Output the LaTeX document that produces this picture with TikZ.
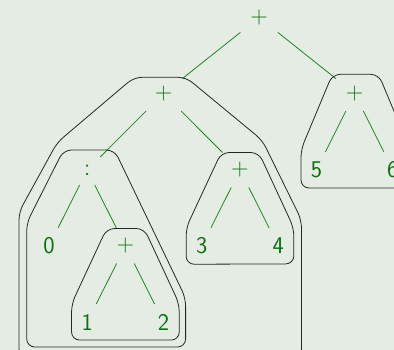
\documentclass[tikz,border=0pt]{standalone}
\usepackage{fontspec}
\definecolor{bgc}{RGB}{229,236,228}
\definecolor{tgreen}{RGB}{10,115,10}
\definecolor{egreen}{RGB}{30,135,30}
\tikzset{
  tn/.style={text=tgreen, inner sep=10pt, outer sep=0pt, font=\fontsize{24}{28}\selectfont\sffamily},
  edge/.style={draw=egreen, line width=0.8pt},
  hull/.style={draw=black!85, line width=0.8pt, rounded corners=8pt}
}
\begin{document}
\begin{tikzpicture}[x=1pt,y=-1pt]
\useasboundingbox (0,0) rectangle (394,350);
\fill[bgc] (0,0) rectangle (394,350);
\clip (0,0) rectangle (394,350);
% nodes
\node[tn] (root) at (259.1,17.5) {+};
\node[tn] (lp) at (163.6,93.5) {+};
\node[tn] (rp) at (354.6,93.5) {+};
\node[tn] (colon) at (87.2,170) {:};
\node[tn] (p34) at (240,170) {+};
\node[tn] (n5) at (316.4,170) {5};
\node[tn] (n6) at (392.8,170) {6};
\node[tn] (n0) at (49,246) {0};
\node[tn] (p12) at (125.4,246) {+};
\node[tn] (n3) at (201.8,246) {3};
\node[tn] (n4) at (278.2,246) {4};
\node[tn] (n1) at (87.2,322) {1};
\node[tn] (n2) at (163.6,322) {2};
% edges
\draw[edge] (root) -- (lp);
\draw[edge] (root) -- (rp);
\draw[edge] (lp) -- (colon);
\draw[edge] (lp) -- (p34);
\draw[edge] (colon) -- (n0);
\draw[edge] (colon) -- (p12);
\draw[edge] (p12) -- (n1);
\draw[edge] (p12) -- (n2);
\draw[edge] (p34) -- (n3);
\draw[edge] (p34) -- (n4);
\draw[edge] (rp) -- (n5);
\draw[edge] (rp) -- (n6);
% hulls
\draw[hull] (p12.north west) -- (p12.north east) -- (n2.north east) -- (n2.south east) -- (n1.south west) -- (n1.north west) -- cycle;
\draw[hull] (p34.north west) -- (p34.north east) -- (n4.north east) -- (n4.south east) -- (n3.south west) -- (n3.north west) -- cycle;
\draw[hull] (332.4,74.3) -- (378.6,74.3) -- (410,149.5) -- (410,188) -- (301,188) -- (301,149.5) -- cycle;
\draw[hull] (63.5,150) -- (114.5,150) -- (185.6,298) -- (185.6,347) -- (26.7,347) -- (26.7,223) -- cycle;
\draw[hull] (134,77.3) -- (186,77.3) -- (262.3,140.3) -- (301.5,220) -- (301.5,357) -- (19,357) -- (19,212) -- (57.2,142.5) -- cycle;
\end{tikzpicture}
\end{document}
